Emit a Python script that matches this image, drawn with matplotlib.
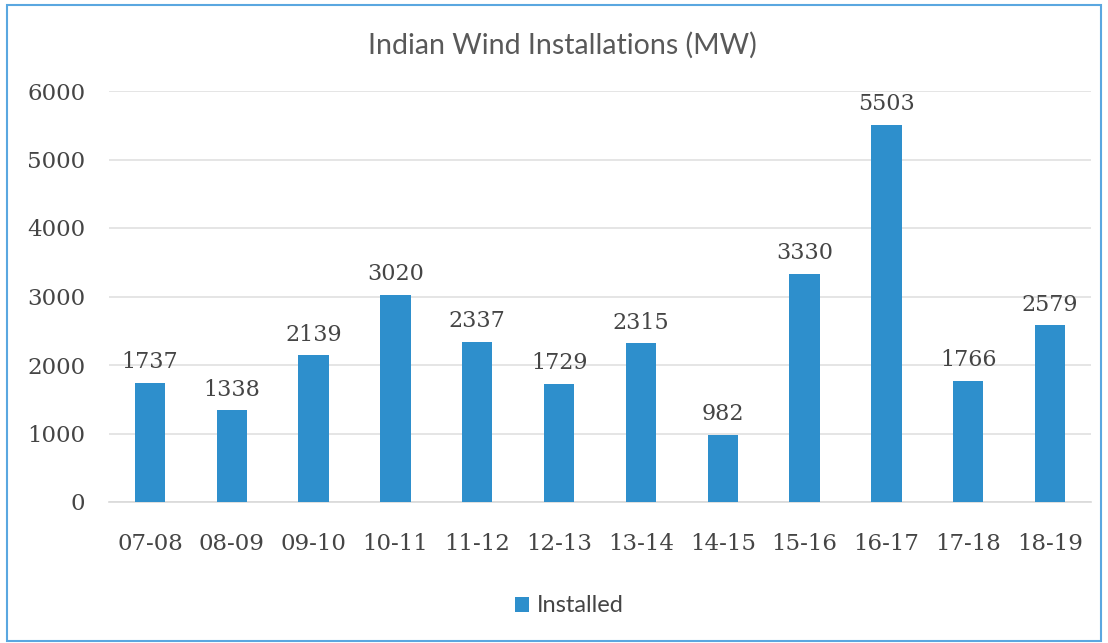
import matplotlib
matplotlib.use('Agg')
import matplotlib.pyplot as plt
from matplotlib.patches import Rectangle

years = ['07-08', '08-09', '09-10', '10-11', '11-12', '12-13',
         '13-14', '14-15', '15-16', '16-17', '17-18', '18-19']
installed = [1737, 1338, 2139, 3020, 2337, 1729, 2315, 982, 3330, 5503, 1766, 2579]
yticks = [0, 1000, 2000, 3000, 4000, 5000, 6000]

bar_color = '#2E8FCC'
text_color = '#454545'
serif = 'DejaVu Serif'
sans = 'Lato'

fig = plt.figure(figsize=(11.08, 6.43), dpi=100)
# outer chart border
fig.patches.append(Rectangle((0.006, 0.003), 0.988, 0.989, transform=fig.transFigure,
                             fill=False, edgecolor='#5AA7E0', linewidth=1.5))

ax = fig.add_axes([109 / 1108, 1 - 502 / 643, 982 / 1108, 411 / 643])
x = range(len(years))
bars = ax.bar(x, installed, width=0.37, color=bar_color, zorder=3)

ax.set_ylim(0, 6000)
ax.set_xlim(-0.5, len(years) - 0.5)
ax.set_yticks(yticks)
ax.set_yticklabels([str(v) for v in yticks], fontfamily=serif, fontsize=16.5, color=text_color)
ax.set_xticks(list(x))
ax.set_xticklabels(years, fontfamily=serif, fontsize=16.5, color=text_color)
ax.tick_params(axis='both', length=0)
ax.tick_params(axis='y', pad=17)
ax.tick_params(axis='x', pad=22)
ax.grid(axis='y', color='#E0E0E0', linewidth=1.2, zorder=0)
for s in ['top', 'right', 'left']:
  ax.spines[s].set_visible(False)
ax.spines['bottom'].set_color('#D9D9D9')
ax.spines['bottom'].set_linewidth(1.2)

for rect, v in zip(bars, installed):
  ax.annotate(str(v), (rect.get_x() + rect.get_width() / 2, v),
              xytext=(0, 7), textcoords='offset points', ha='center', va='bottom',
              fontfamily=serif, fontsize=16, color=text_color)

fig.text(0.508, 1 - 45 / 643, 'Indian Wind Installations (MW)', ha='center', va='center',
         fontfamily=sans, fontsize=20.5, color='#595959')

leg = fig.legend([bars], ['Installed'], loc='center', bbox_to_anchor=(0.514, 1 - 606 / 643),
                 frameon=False, prop={'family': sans, 'size': 17},
                 handlelength=0.6, handleheight=0.6, handletextpad=0.35)
for t in leg.get_texts():
  t.set_color(text_color)

fig.savefig('out.png', dpi=100)
